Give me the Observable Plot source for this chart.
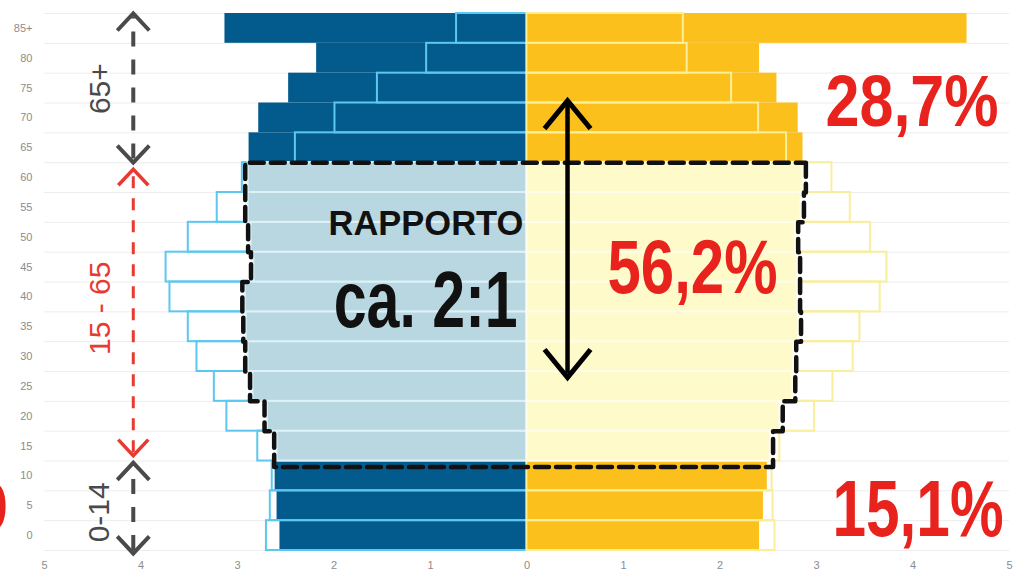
<!DOCTYPE html>
<html><head><meta charset="utf-8">
<script src="https://cdn.jsdelivr.net/npm/d3@7"></script>
<script src="https://cdn.jsdelivr.net/npm/@observablehq/plot@0.6"></script>
<style>
html,body{margin:0;padding:0;background:#fff;}
#chart{width:1013px;height:577px;overflow:hidden;}
</style></head><body><div id="chart"></div>
<script>
// age groups (start of 5-year band)
const ageGroups = [0,5,10,15,20,25,30,35,40,45,50,55,60,65,70,75,80,85];
const ageLabels = ["0","5","10","15","20","25","30","35","40","45","50","55","60","65","70","75","80","85+"];
// % of population — projected (filled bars)
const maleFuture   = [2.56,2.59,2.61,2.59,2.69,2.84,2.89,2.91,2.92,2.83,2.86,2.89,2.89,2.88,2.78,2.47,2.18,3.13];
const femaleFuture = [2.41,2.45,2.49,2.52,2.62,2.75,2.76,2.81,2.80,2.80,2.78,2.84,2.86,2.86,2.81,2.59,2.41,4.56];
// % of population — current (outlined bars)
const maleCurrent   = [2.70,2.66,2.64,2.79,3.11,3.24,3.42,3.51,3.70,3.74,3.51,3.21,2.95,2.40,1.99,1.55,1.04,0.73];
const femaleCurrent = [2.57,2.55,2.54,2.62,2.98,3.17,3.38,3.45,3.66,3.73,3.56,3.35,3.16,2.69,2.40,2.12,1.66,1.62];
const xTicks = [-5,-4,-3,-2,-1,0,1,2,3,4,5];
const shareLabels = ["28,7%","56,2%","15,1%"];
const groupLabels = ["65+","15 - 65","0-14"];

const groupOf = a => a < 15 ? "0-14" : a < 65 ? "15-64" : "65+";
const rows = ageGroups.map((age,i)=>({age, label: ageLabels[i], group: groupOf(age),
  mF: maleFuture[i], fF: femaleFuture[i], mC: maleCurrent[i], fC: femaleCurrent[i]}));
const outer = rows.filter(d=>d.group!=="15-64");
const mid = rows.filter(d=>d.group==="15-64");

// dashed outline around the working-age block
const off = 0.03, boxTop = 65, boxBottom = 14;
const poly = [];
mid.slice().reverse().forEach(d => {
  poly.push({x: d.fF+off, y: d.age===60 ? boxTop : d.age+5});
  poly.push({x: d.fF+off, y: d.age===15 ? boxBottom : d.age});
});
mid.forEach(d => {
  poly.push({x: -(d.mF+off), y: d.age===15 ? boxBottom : d.age});
  poly.push({x: -(d.mF+off), y: d.age===60 ? boxTop : d.age+5});
});
poly.push(poly[0]);

const chevUp = (w,h)=>({draw(c){c.moveTo(-w,h);c.lineTo(0,0);c.lineTo(w,h);}});
const chevDown = (w,h)=>({draw(c){c.moveTo(-w,-h);c.lineTo(0,0);c.lineTo(w,-h);}});

const arrowX = -4.08;
const grey = "#4a4a4a", red = "#e8221c", redSoft = "#e83a30";
const bigFont = "'Liberation Sans Narrow', 'Liberation Sans', Arial, sans-serif";

const chart = Plot.plot({
  width: 1013, height: 577,
  marginLeft: 44, marginRight: 4, marginTop: 13, marginBottom: 27,
  x: {domain: [-5,5]},
  y: {domain: [0,90]},
  style: {background: "#fff", fontFamily: "Liberation Sans, Arial, sans-serif"},
  marks: [
    Plot.ruleY(d3.range(0,95,5), {stroke: "#ededed", strokeWidth: 1}),
    Plot.axisX({ticks: xTicks, tickFormat: d=>Math.abs(d), tickSize: 0, tickPadding: 11, fontSize: 11, color: "#8c8c8c", label: null}),
    Plot.axisY({ticks: ageGroups.map(a=>a+2.5), tickFormat: (d,i)=>ageLabels[i], tickSize: 0, tickPadding: 12, fontSize: 11, color: "#8c8c8c", label: null}),
    // projected, outer groups
    Plot.rect(outer, {x1: d=>-d.mF, x2: 0, y1: "age", y2: d=>d.age+5, fill: "#035b8d"}),
    Plot.rect(outer, {x1: 0, x2: "fF", y1: "age", y2: d=>d.age+5, fill: "#fcc01c"}),
    // current, outlines
    Plot.rect(rows, {x1: d=>-d.mC, x2: 0, y1: "age", y2: d=>d.age+5, fill: "none", stroke: "#5cc8f0", strokeWidth: 2}),
    Plot.rect(rows, {x1: 0, x2: "fC", y1: "age", y2: d=>d.age+5, fill: "none", stroke: "#f8ee9c", strokeWidth: 2}),
    // projected, working age (highlighted)
    Plot.rect(mid, {x1: d=>-d.mF, x2: 0, y1: "age", y2: d=>d.age+5, fill: "#b8d7e0", stroke: "#ddf1f8", strokeWidth: 2}),
    Plot.rect(mid, {x1: 0, x2: "fF", y1: "age", y2: d=>d.age+5, fill: "#fefac9", stroke: "#fffdea", strokeWidth: 2}),
    Plot.line(poly, {x: "x", y: "y", stroke: "#111", strokeWidth: 4.5, strokeDasharray: "14,7", curve: "linear"}),
    // left-hand bracket arrows
    Plot.ruleX([arrowX], {y1: 65.6, y2: 89.4, stroke: grey, strokeWidth: 4, strokeDasharray: "15,13"}),
    Plot.dot([{x: arrowX, y: 90}], {x: "x", y: "y", symbol: chevUp(16,17), fill: "none", stroke: grey, strokeWidth: 4}),
    Plot.dot([{x: arrowX, y: 65.0}], {x: "x", y: "y", symbol: chevDown(16,17), fill: "none", stroke: grey, strokeWidth: 4}),
    Plot.ruleX([arrowX], {y1: 16.4, y2: 63.4, stroke: redSoft, strokeWidth: 3, strokeDasharray: "12,10"}),
    Plot.dot([{x: arrowX, y: 63.9}], {x: "x", y: "y", symbol: chevUp(15,16), fill: "none", stroke: redSoft, strokeWidth: 3.5}),
    Plot.dot([{x: arrowX, y: 15.9}], {x: "x", y: "y", symbol: chevDown(15,16), fill: "none", stroke: redSoft, strokeWidth: 3.5}),
    Plot.ruleX([arrowX], {y1: 0.0, y2: 14.2, stroke: grey, strokeWidth: 4, strokeDasharray: "15,13"}),
    Plot.dot([{x: arrowX, y: 14.7}], {x: "x", y: "y", symbol: chevUp(16,17), fill: "none", stroke: grey, strokeWidth: 4}),
    Plot.dot([{x: arrowX, y: -0.5}], {x: "x", y: "y", symbol: chevDown(16,17), fill: "none", stroke: grey, strokeWidth: 4}),
    Plot.text([groupLabels[0]], {x: -4.42, y: 77.4, text: d=>d, rotate: -90, fontSize: 30, fill: grey, textAnchor: "middle", lineAnchor: "middle"}),
    Plot.text([groupLabels[1]], {x: -4.42, y: 40.6, text: d=>d, rotate: -90, fontSize: 30, fill: redSoft, textAnchor: "middle", lineAnchor: "middle"}),
    Plot.text([groupLabels[2]], {x: -4.43, y: 6.4, text: d=>d, rotate: -90, fontSize: 30, fill: grey, textAnchor: "middle", lineAnchor: "middle"}),
    // black double arrow
    Plot.ruleX([0.42], {y1: 29.6, y2: 74.8, stroke: "#000", strokeWidth: 4.5}),
    Plot.dot([{x: 0.42, y: 75.4}], {x: "x", y: "y", symbol: chevUp(23,28), fill: "none", stroke: "#000", strokeWidth: 5}),
    Plot.dot([{x: 0.42, y: 29.0}], {x: "x", y: "y", symbol: chevDown(23,28), fill: "none", stroke: "#000", strokeWidth: 5}),
    // texts
    Plot.text(["RAPPORTO"], {x: -1.047, y: 52.8, text: d=>d, fontSize: 36, fontWeight: "bold", fontFamily: bigFont, fill: "#111", textAnchor: "middle", lineAnchor: "bottom"}),
    Plot.text(["ca. 2:1"], {x: -1.05, y: 37.4, text: d=>d, fontSize: 80, fontWeight: "bold", fontFamily: bigFont, fill: "#111", textAnchor: "middle", lineAnchor: "bottom"}),
    Plot.text([shareLabels[0]], {x: 4.886, y: 71.2, text: d=>d, fontSize: 73, fontWeight: "bold", fontFamily: bigFont, fill: red, textAnchor: "end", lineAnchor: "bottom"}),
    Plot.text([shareLabels[1]], {x: 2.596, y: 43.2, text: d=>d, fontSize: 76, fontWeight: "bold", fontFamily: bigFont, fill: red, textAnchor: "end", lineAnchor: "bottom"}),
    Plot.text([shareLabels[2]], {x: 4.938, y: 2.5, text: d=>d, fontSize: 79, fontWeight: "bold", fontFamily: bigFont, fill: red, textAnchor: "end", lineAnchor: "bottom"}),
    Plot.text(["0"], {x: -5, y: 3.3, dx: -36, text: d=>d, fontSize: 70, fontWeight: "bold", fill: red, textAnchor: "end", lineAnchor: "bottom"})
  ]
});
document.getElementById("chart").append(chart);
// condense the big labels horizontally around their anchor
const widths = {"RAPPORTO": 195, "ca. 2:1": 184, "28,7%": 173, "56,2%": 170, "15,1%": 171};
d3.select(chart).selectAll("text").each(function(){
  const w = widths[this.textContent];
  if (!w) return;
  const natural = this.getComputedTextLength();
  if (!natural) return;
  const sx = w / natural;
  const ax = +(this.getAttribute("x") || 0);
  const t = this.getAttribute("transform") || "";
  this.setAttribute("transform", `${t} translate(${ax},0) scale(${sx},1) translate(${-ax},0)`);
});
</script></body></html>
